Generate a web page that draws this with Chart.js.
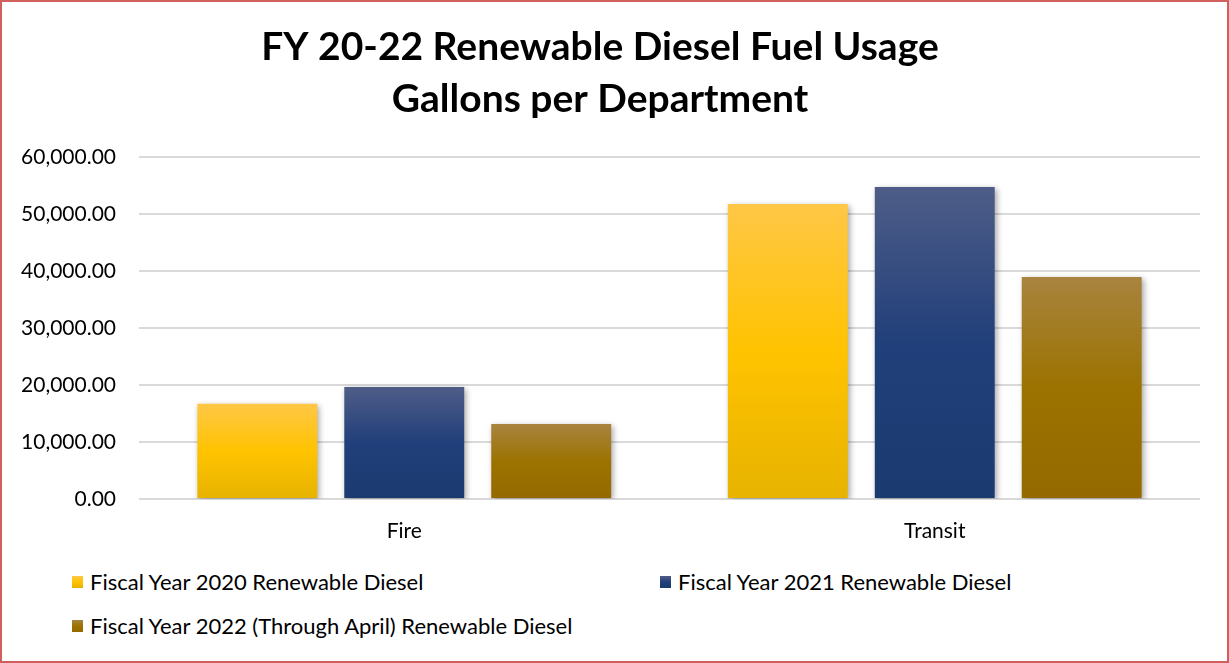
<!DOCTYPE html>
<html>
<head>
<meta charset="utf-8">
<script src="https://cdn.jsdelivr.net/npm/chart.js@4.4.1/dist/chart.umd.min.js"></script>
<style>
  html, body { margin: 0; padding: 0; background: #fff; }
  #frame { position: relative; width: 1229px; height: 663px; overflow: hidden; font-family: Lato, sans-serif; }
  #frame::after { content: ''; position: absolute; inset: 0; border: 2px solid #d0605e; pointer-events: none; }
  #chart { position: absolute; left: 0; top: 0; }
  .legend-item { position: absolute; display: flex; align-items: center; font-size: 22px; line-height: 24px; color: #000; white-space: nowrap; }
  .legend-item i { display: inline-block; width: 11px; height: 12px; margin-right: 7px; }
</style>
</head>
<body>
<div id="frame">
  <canvas id="chart" width="1229" height="549"></canvas>
  <div id="legend"></div>
</div>
<script>
const titleLines = ['FY 20-22 Renewable Diesel Fuel Usage', 'Gallons per Department'];
const departments = ['Fire', 'Transit'];
const fy2020 = [16700, 51750];
const fy2021 = [19650, 54750];
const fy2022 = [13150, 38950];
const seriesNames = [
    'Fiscal Year 2020 Renewable Diesel',
    'Fiscal Year 2021 Renewable Diesel',
    'Fiscal Year 2022 (Through April) Renewable Diesel'
];

// top / middle / bottom of each bar gradient
const yellow = ['#ffc746', '#ffc300', '#e7b300'];
const blue = ['#4e5d88', '#213f7a', '#1b3a70'];
const brown = ['#a8843f', '#9c7200', '#946a00'];

function barGradient(stops) {
    return (c) => {
        const chart = c.chart;
        if (!chart.chartArea || c.type !== 'data') return stops[1];
        const yScale = chart.scales.y;
        const top = yScale.getPixelForValue(c.raw);
        const bottom = yScale.getPixelForValue(0);
        const g = chart.ctx.createLinearGradient(0, top, 0, bottom);
        g.addColorStop(0, stops[0]);
        g.addColorStop(0.5, stops[1]);
        g.addColorStop(1, stops[2]);
        return g;
    };
}

const barShadow = {
    id: 'barShadow',
    beforeDatasetsDraw(chart) {
        const ctx = chart.ctx;
        ctx.save();
        ctx.shadowColor = 'rgba(0, 0, 0, 0.35)';
        ctx.shadowBlur = 6;
        ctx.shadowOffsetX = 2;
        ctx.shadowOffsetY = 2;
    },
    afterDatasetsDraw(chart) {
        chart.ctx.restore();
    }
};

const series = [
    { label: seriesNames[0], data: fy2020, stops: yellow },
    { label: seriesNames[1], data: fy2021, stops: blue },
    { label: seriesNames[2], data: fy2022, stops: brown }
];

const tickFont = { family: 'Lato', size: 21 };

new Chart(document.getElementById('chart'), {
    type: 'bar',
    data: {
        labels: departments,
        datasets: series.map((s) => ({
            label: s.label,
            data: s.data,
            backgroundColor: barGradient(s.stops),
            borderWidth: 0,
            categoryPercentage: 0.831,
            barPercentage: 0.816
        }))
    },
    options: {
        responsive: false,
        animation: false,
        layout: { padding: { left: 0, right: 29, top: 0, bottom: 0 } },
        plugins: {
            legend: { display: false },
            tooltip: { enabled: false },
            title: {
                display: true,
                text: titleLines,
                color: '#000',
                font: { family: 'Lato', size: 39, weight: 'bold', lineHeight: 1.333 },
                padding: { top: 21, bottom: 32 }
            }
        },
        scales: {
            x: {
                grid: { display: false },
                border: { display: false },
                ticks: { padding: 12, color: '#000', font: tickFont },
                afterFit: (scale) => { scale.height = 50; }
            },
            y: {
                min: 0,
                max: 60000,
                grid: { color: '#d9d9d9', lineWidth: 2, drawTicks: false },
                border: { display: false },
                ticks: {
                    stepSize: 10000,
                    padding: 23,
                    color: '#000',
                    font: tickFont,
                    callback: (v) => v.toLocaleString('en-US', { minimumFractionDigits: 2, maximumFractionDigits: 2 })
                },
                afterFit: (scale) => { scale.width = 139; }
            }
        }
    },
    plugins: [barShadow]
});

// legend laid out in two columns like the original
const legendSpots = [[72, 570], [660, 570], [72, 614]];
const legend = document.getElementById('legend');
series.forEach((s, i) => {
    const item = document.createElement('div');
    item.className = 'legend-item';
    item.style.left = legendSpots[i][0] + 'px';
    item.style.top = legendSpots[i][1] + 'px';
    const box = document.createElement('i');
    box.style.background = `linear-gradient(${s.stops[0]}, ${s.stops[1]}, ${s.stops[2]})`;
    item.appendChild(box);
    item.appendChild(document.createTextNode(s.label));
    legend.appendChild(item);
});
</script>
</body>
</html>
